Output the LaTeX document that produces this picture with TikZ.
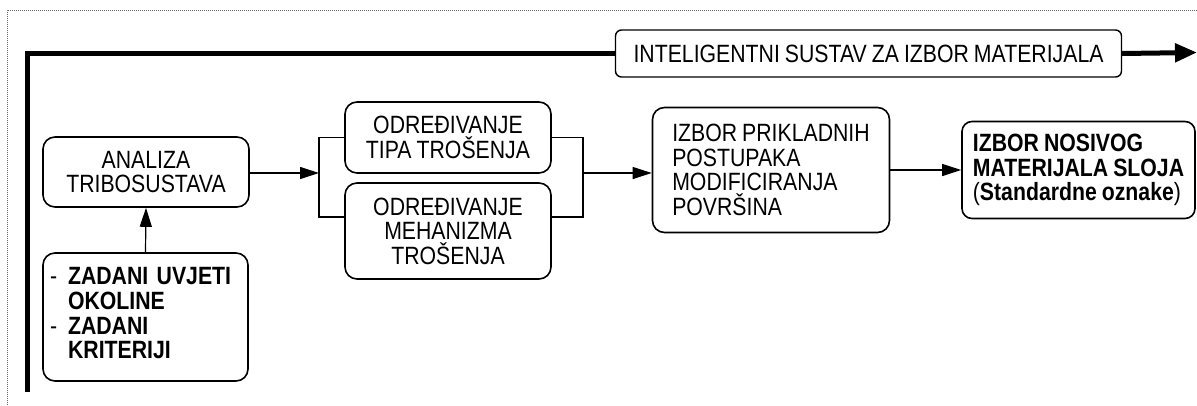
\documentclass[tikz,border=0pt]{standalone}
\usepackage{fontspec}
\setmainfont[FakeStretch=0.85,WordSpace=0.85]{Liberation Sans}
\usetikzlibrary{arrows.meta}

\tikzstyle{box} = [draw, line width=1.6pt, rounded corners=12pt, inner sep=0pt, font=\fontsize{25}{24.5}\selectfont]
\tikzstyle{leftbox} = [box, align=left]
\tikzstyle{titlebox} = [box, line width=1.4pt, rounded corners=6pt]
\tikzstyle{link} = [line width=1.2pt]
\tikzstyle{flow} = [link, -{Triangle[length=19pt,width=12pt]}]
\tikzstyle{main} = [line width=5pt, line join=miter]
\tikzstyle{frame} = [black!60, line width=0.8pt, dash pattern=on 1pt off 1pt]

\begin{document}
\begin{tikzpicture}[x=1pt, y=-1pt]
\useasboundingbox (0,0) rectangle (1197,405);
%okvir
\draw[frame] (7,405) -- (7,10) -- (1197,10);

%begin cvorovi
\node[box, minimum width=206pt, minimum height=70pt, align=center] (analiza) at (146,172)
    {ANALIZA\\TRIBOSUSTAVA};
\node[box, minimum width=205pt, minimum height=128pt, text width=191pt, execute at begin node=\raggedright] (zadani) at (145.5,317)
    {\begin{tabular}{@{}l@{\hspace{11pt}}l@{}}
     - & \textbf{ZADANI UVJETI}\\
       & \textbf{OKOLINE}\\
     - & \textbf{ZADANI}\\
       & \textbf{KRITERIJI}
     \end{tabular}};
\node[box, minimum width=206pt, minimum height=71pt, align=center] (tip) at (448,137.5)
    {ODREĐIVANJE\\TIPA TROŠENJA};
\node[box, minimum width=206pt, minimum height=96pt, align=center] (mehanizam) at (448,231)
    {ODREĐIVANJE\\MEHANIZMA\\TROŠENJA};
\node[leftbox, minimum width=237pt, minimum height=125pt] (postupci) at (771,170)
    {IZBOR PRIKLADNIH\\POSTUPAKA\\MODIFICIRANJA\\POVRŠINA};
\node[leftbox, rounded corners=10pt, minimum width=233pt, minimum height=97pt] (materijal) at (1078.5,170)
    {\textbf{IZBOR NOSIVOG}\\\textbf{MATERIJALA SLOJA}\\(\textbf{Standardne oznake})};
\node[titlebox, minimum width=506pt, minimum height=47pt] (sustav) at (868.5,53.5)
    {INTELIGENTNI SUSTAV ZA IZBOR MATERIJALA};
%end cvorovi

%begin tocke
\coordinate (lijevo) at (319,173);
\coordinate (lijevodolje) at (319,217);
\coordinate (desno) at (583,173);
\coordinate (desnodolje) at (583,217);
\coordinate (pocetak) at (27.5,392);
\coordinate (kraj) at (1197,52.5);
%end tocke

%begin veze
\draw[flow] (zadani.north) -- (analiza.south);
\draw[flow] (analiza.east |- lijevo) -- (lijevo);
\draw[link] (tip.west) -| (lijevo) -- (lijevodolje) -- (mehanizam.west |- lijevodolje);
\draw[link] (tip.east) -| (desno) -- (desnodolje) -- (mehanizam.east |- desnodolje);
\draw[flow] (desno) -- (postupci.west |- desno);
\draw[flow] (postupci.east) -- (materijal.west);
%end veze

%begin glavna linija
\draw[main] (pocetak) |- (sustav.west);
\draw[main, -{Triangle[length=22pt,width=18pt]}] (sustav.east) -- (kraj);
%end glavna linija
\end{tikzpicture}
\end{document}
